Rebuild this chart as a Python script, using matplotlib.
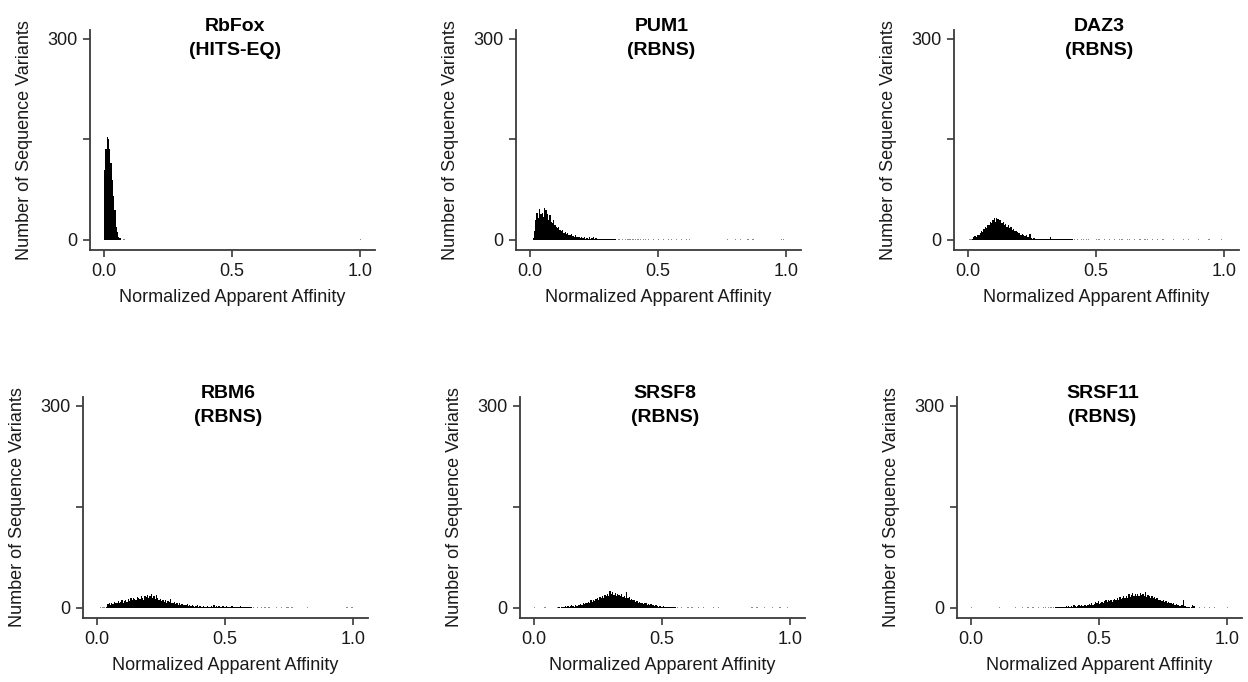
import matplotlib
matplotlib.use("Agg")
import matplotlib.pyplot as plt
import numpy as np

plt.rcParams['font.family'] = ['Liberation Sans', 'DejaVu Sans']

BIN = 0.005

titles = ["RbFox\n(HITS-EQ)", "PUM1\n(RBNS)", "DAZ3\n(RBNS)",
          "RBM6\n(RBNS)", "SRSF8\n(RBNS)", "SRSF11\n(RBNS)"]

# counts per 0.005 bin, starting at the given left edge
rbfox_start = 0.000
rbfox_counts = [105, 135, 154, 150, 135, 115, 90, 65, 45, 20, 12, 5, 3]
rbfox_tail = [0.075, 1.0]

pum1_start = 0.010
pum1_counts = [3, 14, 30, 40, 32, 46, 38, 40, 34, 47, 44, 38, 30, 37, 27, 25,
               29, 22, 20, 18, 20, 15, 14, 15, 11, 12, 9, 10, 8, 7, 9, 6,
               5, 7, 5, 4, 5, 3, 4, 3, 4, 2, 3, 2, 5, 2, 3, 5, 2, 3,
               1, 2, 1, 2, 1, 2, 1, 1, 2, 1, 1, 2, 1, 1, 1]
pum1_tail = [0.345, 0.36, 0.37, 0.38, 0.385, 0.39, 0.40, 0.41, 0.42, 0.43,
             0.44, 0.45, 0.46, 0.48, 0.50, 0.52, 0.54, 0.55, 0.57, 0.59,
             0.61, 0.62, 0.77, 0.80, 0.82, 0.85, 0.87, 0.98, 0.99]

daz3_start = 0.015
daz3_counts = [2, 5, 6, 5, 7, 8, 10, 13, 12, 17, 19, 18, 23, 22, 27, 25,
               30, 32, 27, 33, 31, 29, 30, 26, 27, 23, 24, 20, 22, 18, 19,
               15, 17, 13, 14, 12, 10, 11, 8, 9, 7, 6, 7, 5, 4, 9, 3, 2,
               3, 2, 1, 2, 2, 1, 2, 2, 1, 2, 1, 2, 1, 5, 2, 1, 2, 1, 2,
               2, 1, 2, 1, 2, 1, 1, 2, 1, 1, 1, 1]
daz3_tail = [0.005, 0.01, 0.415, 0.425, 0.44, 0.45, 0.46, 0.47, 0.50, 0.51,
             0.53, 0.55, 0.57, 0.59, 0.60, 0.62, 0.63, 0.65, 0.67, 0.69,
             0.70, 0.72, 0.74, 0.76, 0.80, 0.84, 0.86, 0.90, 0.94, 0.99]

rbm6_start = 0.035
rbm6_counts = [2, 6, 7, 5, 8, 6, 9, 7, 8, 10, 7, 9, 11, 8, 10, 12, 9, 13,
               10, 14, 11, 15, 13, 12, 16, 14, 13, 17, 15, 12, 18, 16, 19,
               14, 17, 20, 15, 18, 13, 19, 14, 12, 13, 10, 12, 9, 11, 8,
               10, 9, 13, 8, 7, 9, 6, 7, 5, 7, 5, 6, 4, 5, 4, 6, 3, 4, 3,
               4, 3, 2, 3, 4, 2, 3, 2, 2, 3, 1, 2, 3, 2, 1, 3, 2, 4, 2, 3,
               2, 3, 2, 2, 3, 1, 2, 3, 2, 1, 2, 3, 1, 2, 2, 1, 2, 1, 3, 1,
               2, 1, 1, 2, 1, 1, 2]
rbm6_tail = [0.01, 0.02, 0.025, 0.61, 0.625, 0.64, 0.655, 0.67, 0.70, 0.72,
             0.74, 0.74, 0.745, 0.76, 0.82, 0.975, 0.995]

srsf8_start = 0.095
srsf8_counts = [1, 0, 2, 1, 2, 3, 2, 3, 2, 3, 4, 3, 2, 4, 3, 5, 4, 6, 5, 7,
                6, 8, 7, 9, 8, 11, 9, 12, 10, 13, 14, 12, 16, 14, 17, 15,
                19, 17, 21, 18, 25, 20, 24, 19, 22, 18, 21, 19, 17, 20, 16,
                18, 15, 24, 14, 16, 12, 13, 11, 12, 9, 10, 8, 9, 7, 8, 6, 8,
                7, 5, 6, 5, 6, 4, 5, 3, 4, 3, 2, 3, 2, 2, 3, 1, 2, 2, 1, 2,
                1, 1, 2, 1]
srsf8_tail = [0.0, 0.04, 0.09, 0.56, 0.575, 0.60, 0.615, 0.64, 0.66, 0.70,
              0.72, 0.85, 0.87, 0.90, 0.93, 0.96, 0.99]

srsf11_start = 0.330
srsf11_counts = [2, 1, 2, 1, 2, 1, 2, 2, 3, 2, 3, 2, 3, 2, 4, 3, 2, 3, 4, 3,
                 4, 3, 5, 4, 3, 5, 6, 4, 7, 5, 6, 9, 7, 10, 6, 8, 9, 7, 10,
                 11, 9, 12, 10, 11, 9, 12, 13, 11, 14, 12, 16, 13, 15, 18,
                 14, 17, 15, 21, 16, 19, 22, 17, 20, 18, 21, 17, 22, 19, 20,
                 18, 23, 16, 19, 17, 15, 17, 14, 16, 13, 14, 12, 11, 12, 10,
                 11, 9, 10, 8, 9, 7, 8, 6, 7, 5, 6, 4, 5, 3, 4, 5, 11, 3, 2,
                 1, 1, 0, 2, 4, 3]
srsf11_tail = [0.0, 0.11, 0.17, 0.20, 0.22, 0.24, 0.26, 0.28, 0.29, 0.30,
               0.31, 0.32, 0.89, 0.91, 0.93, 0.95, 1.0]

starts = [rbfox_start, pum1_start, daz3_start, rbm6_start, srsf8_start, srsf11_start]
cores = [rbfox_counts, pum1_counts, daz3_counts, rbm6_counts, srsf8_counts, srsf11_counts]
tails = [rbfox_tail, pum1_tail, daz3_tail, rbm6_tail, srsf8_tail, srsf11_tail]

# axes boxes in pixels: left, top, bottom
boxes = [(90, 30, 250), (516, 30, 250), (954, 30, 250),
         (83, 397, 618), (520, 397, 618), (957, 397, 618)]
W, H = 1248, 682
axw = 285

edges = np.arange(0, 202) * BIN


def core_counts(start, core):
    counts = np.zeros(len(edges) - 1)
    i0 = int(round(start / BIN))
    counts[i0:i0 + len(core)] += core
    return counts


def tail_counts(tail):
    counts = np.zeros(len(edges) - 1)
    for v in tail:
        counts[min(int(round(v / BIN)), len(counts) - 1)] += 1
    return counts


fig = plt.figure(figsize=(W / 100, H / 100), dpi=100)
spine_c = '#3a3a3a'

for i in range(6):
    left, top, bottom = boxes[i]
    ax = fig.add_axes([left / W, (H - bottom) / H, axw / W, (bottom - top) / H])
    ax.stairs(tail_counts(tails[i]), edges, fill=True, color='#8a8a8a', lw=0)
    ax.stairs(core_counts(starts[i], cores[i]), edges, fill=True, color='black', lw=0)
    ax.set_xlim(-0.055, 1.06)
    ax.set_ylim(-15, 313)
    ax.set_xticks([0.0, 0.5, 1.0])
    ax.set_xticklabels(['0.0', '0.5', '1.0'])
    ax.set_yticks([0, 150, 300])
    ax.set_yticklabels(['0', '', '300'])
    for s in ['top', 'right']:
        ax.spines[s].set_visible(False)
    for s in ['left', 'bottom']:
        ax.spines[s].set_color(spine_c)
        ax.spines[s].set_linewidth(1.3)
    ax.tick_params(direction='out', length=5, width=1.2, color=spine_c,
                   labelsize=13, labelcolor='#1a1a1a', pad=4)
    ax.set_xlabel('Normalized Apparent Affinity', fontsize=13, color='#1a1a1a')
    ax.set_ylabel('Number of Sequence Variants', fontsize=13, color='#1a1a1a')
    ax.xaxis.set_label_coords(0.5, -0.175)
    ax.yaxis.set_label_coords(-0.2, 0.5)
    ax.text(0.51, 0.962, titles[i], transform=ax.transAxes, ha='center',
            va='center', fontsize=14, fontweight='bold', linespacing=1.55)

fig.savefig('out.png', dpi=100)
